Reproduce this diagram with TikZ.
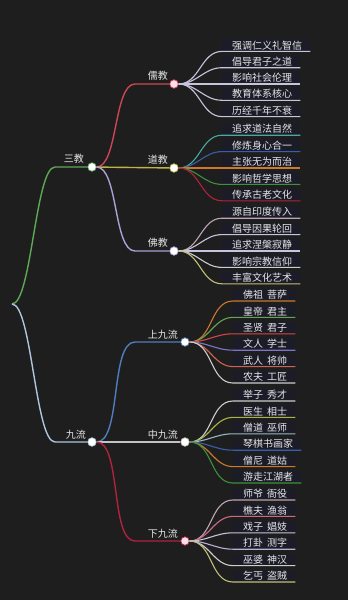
\documentclass[tikz,border=0pt]{standalone}
\usepackage{fontspec}
\newfontfamily\cjk{Noto Sans CJK SC}
\usepackage{tikz}
\usetikzlibrary{positioning,calc}
% --- palette ---------------------------------------------------------
\definecolor{bgc}{RGB}{30,30,30}
\definecolor{leafbg}{RGB}{27,28,40}
\definecolor{txt}{RGB}{230,230,230}
\definecolor{cGreen}{RGB}{96,168,88}
\definecolor{cSky}{RGB}{175,198,222}
\definecolor{cRed}{RGB}{205,70,85}
\definecolor{cOlive}{RGB}{190,180,70}
\definecolor{cLav}{RGB}{170,160,215}
\definecolor{cBlue}{RGB}{80,125,190}
\definecolor{cGrey}{RGB}{195,195,195}
\definecolor{cCrim}{RGB}{175,35,60}
\definecolor{cTeal}{RGB}{70,170,160}
\definecolor{cNavy}{RGB}{55,95,175}
\definecolor{cOrange}{RGB}{205,120,45}
\definecolor{cLeaf}{RGB}{60,145,60}
\definecolor{cLeafB}{RGB}{100,165,80}
\definecolor{cRedB}{RGB}{215,70,70}
\definecolor{cPurp}{RGB}{125,115,205}
\definecolor{cSalmon}{RGB}{205,100,80}
\definecolor{cOliveB}{RGB}{170,180,70}
\definecolor{cPink}{RGB}{205,105,130}
\definecolor{lPale}{RGB}{200,195,222}
\definecolor{lRose}{RGB}{190,165,178}
\definecolor{lGrey}{RGB}{205,205,205}
\definecolor{lStraw}{RGB}{195,190,120}
\definecolor{lTeal}{RGB}{150,185,195}
\definecolor{lLav}{RGB}{185,175,215}
\definecolor{dotpink}{RGB}{255,222,235}
\tikzset{
  % --- nodes -----------------------------------------------------------
  dot/.style  ={circle, draw=#1, fill=white, line width=0.7pt,
                minimum size=8.5pt, inner sep=0},
  hub/.style  ={font=\cjk\fontsize{10}{12}\selectfont, text=txt,
                inner sep=1pt, anchor=south east},
  leaf/.style ={font=\cjk\fontsize{10}{12}\selectfont, text=txt, fill=leafbg,
                inner xsep=0pt, inner ysep=1.3pt, anchor=south west},
  % --- connectors ------------------------------------------------------
  edge/.style ={line width=1.4pt, draw=#1},
  twig/.style ={line width=1.1pt, draw=#1},
}
\newcommand{\leaftxt}[1]{\hspace*{10pt}#1\hspace*{8pt}}

\begin{document}
\begin{tikzpicture}[x=1pt, y=-1pt]

  % ============================= canvas =============================
  \fill[bgc] (0,0) rectangle (348,600);
  \useasboundingbox (0,0) rectangle (348,600);

  % ============================= root + level 1 =============================
  \coordinate (root) at (12,304);
  \node[dot=cGreen] (sanjiao) at (92,167) {};
  \node[hub] (sanjiao-t) at ($(sanjiao)+(-7,-2)$) {三教};
  \node[dot=cSky] (jiuliu) at (92,442) {};
  \node[hub] (jiuliu-t) at ($(jiuliu)+(-5,-2)$) {九流};

  % ============================= level 2 =============================
  \node[dot=cRed, fill=dotpink] (rujiao) at (174,84) {};
  \node[hub] (rujiao-t) at ($(rujiao)+(-5,-2)$) {儒教};
  \node[dot=cOlive] (daojiao) at (174,168) {};
  \node[hub] (daojiao-t) at ($(daojiao)+(-5,-2)$) {道教};
  \node[dot=cLav] (fojiao) at (174,251) {};
  \node[hub] (fojiao-t) at ($(fojiao)+(-5,-2)$) {佛教};

  \node[dot=cBlue] (shang) at (185,342) {};
  \node[hub] (shang-t) at ($(shang)+(-6,-2)$) {上九流};
  \node[dot=cGrey] (zhong) at (185,442) {};
  \node[hub] (zhong-t) at ($(zhong)+(-6,-2)$) {中九流};
  \node[dot=cCrim, fill=dotpink] (xia) at (185,541) {};
  \node[hub] (xia-t) at ($(xia)+(-6,-2)$) {下九流};

  % ============================= leaves: 儒教 =============================
  \node[leaf] (ru1) at (222,51.4)  {\leaftxt{强调仁义礼智信}};
  \node[leaf] (ru2) at (222,67.7)  {\leaftxt{倡导君子之道}};
  \node[leaf] (ru3) at (222,84)    {\leaftxt{影响社会伦理}};
  \node[leaf] (ru4) at (222,100.3) {\leaftxt{教育体系核心}};
  \node[leaf] (ru5) at (222,116.6) {\leaftxt{历经千年不衰}};

  % ============================= leaves: 道教 =============================
  \node[leaf] (dao1) at (222,135.2) {\leaftxt{追求道法自然}};
  \node[leaf] (dao2) at (222,151.6) {\leaftxt{修炼身心合一}};
  \node[leaf] (dao3) at (222,168)   {\leaftxt{主张无为而治}};
  \node[leaf] (dao4) at (222,184.4) {\leaftxt{影响哲学思想}};
  \node[leaf] (dao5) at (222,200.8) {\leaftxt{传承古老文化}};

  % ============================= leaves: 佛教 =============================
  \node[leaf] (fo1) at (222,218.2) {\leaftxt{源自印度传入}};
  \node[leaf] (fo2) at (222,234.6) {\leaftxt{倡导因果轮回}};
  \node[leaf] (fo3) at (222,251)   {\leaftxt{追求涅槃寂静}};
  \node[leaf] (fo4) at (222,267.4) {\leaftxt{影响宗教信仰}};
  \node[leaf] (fo5) at (222,283.8) {\leaftxt{丰富文化艺术}};

  % ============================= leaves: 上九流 =============================
  \node[leaf] (sh1) at (233,301)   {\leaftxt{佛祖\hspace{4pt}菩萨}};
  \node[leaf] (sh2) at (233,317.4) {\leaftxt{皇帝\hspace{4pt}君主}};
  \node[leaf] (sh3) at (233,333.8) {\leaftxt{圣贤\hspace{4pt}君子}};
  \node[leaf] (sh4) at (233,350.2) {\leaftxt{文人\hspace{4pt}学士}};
  \node[leaf] (sh5) at (233,366.6) {\leaftxt{武人\hspace{4pt}将帅}};
  \node[leaf] (sh6) at (233,383)   {\leaftxt{农夫\hspace{4pt}工匠}};

  % ============================= leaves: 中九流 =============================
  \node[leaf] (zh1) at (233,401)   {\leaftxt{举子\hspace{4pt}秀才}};
  \node[leaf] (zh2) at (233,417.4) {\leaftxt{医生\hspace{4pt}相士}};
  \node[leaf] (zh3) at (233,433.8) {\leaftxt{僧道\hspace{4pt}巫师}};
  \node[leaf] (zh4) at (233,450.2) {\leaftxt{琴棋书画家}};
  \node[leaf] (zh5) at (233,466.6) {\leaftxt{僧尼\hspace{4pt}道姑}};
  \node[leaf] (zh6) at (233,483)   {\leaftxt{游走江湖者}};

  % ============================= leaves: 下九流 =============================
  \node[leaf] (xi1) at (233,500)   {\leaftxt{师爷\hspace{4pt}衙役}};
  \node[leaf] (xi2) at (233,516.4) {\leaftxt{樵夫\hspace{4pt}渔翁}};
  \node[leaf] (xi3) at (233,532.8) {\leaftxt{戏子\hspace{4pt}娼妓}};
  \node[leaf] (xi4) at (233,549.2) {\leaftxt{打卦\hspace{4pt}测字}};
  \node[leaf] (xi5) at (233,565.6) {\leaftxt{巫婆\hspace{4pt}神汉}};
  \node[leaf] (xi6) at (233,582)   {\leaftxt{乞丐\hspace{4pt}盗贼}};

  % ============================= edges: root -> level 1 =============================
  \draw[edge=cGreen] (root) to[out=0,in=180,looseness=.35] ($(sanjiao)+(-37,0)$) -- (sanjiao);
  \draw[edge=cSky]   (root) to[out=0,in=180,looseness=.35] ($(jiuliu)+(-37,0)$) -- (jiuliu);

  % ============================= edges: level 1 -> level 2 =============================
  \draw[edge=cRed]   (sanjiao) to[out=0,in=180,looseness=.6] ($(rujiao)+(-39,0)$) -- (rujiao);
  \draw[edge=cOlive] (sanjiao) -- (daojiao);
  \draw[edge=cLav]   (sanjiao) to[out=0,in=180,looseness=.6] ($(fojiao)+(-39,0)$) -- (fojiao);
  \draw[edge=cBlue]  (jiuliu) to[out=0,in=180,looseness=.6] ($(shang)+(-50,0)$) -- (shang);
  \draw[edge=cGrey]  (jiuliu) -- (zhong);
  \draw[edge=cCrim]  (jiuliu) to[out=0,in=180,looseness=.6] ($(xia)+(-50,0)$) -- (xia);

  % ============================= edges: 儒教 leaves =============================
  \draw[twig=lPale] (rujiao) to[out=0,in=180] (ru1.south west) -- (ru1.south east);
  \draw[twig=lPale] (rujiao) to[out=0,in=180] (ru2.south west) -- (ru2.south east);
  \draw[twig=lPale] (rujiao) to[out=0,in=180] (ru3.south west) -- (ru3.south east);
  \draw[twig=lPale] (rujiao) to[out=0,in=180] (ru4.south west) -- (ru4.south east);
  \draw[twig=lPale] (rujiao) to[out=0,in=180] (ru5.south west) -- (ru5.south east);

  % ============================= edges: 道教 leaves =============================
  \draw[twig=cTeal]   (daojiao) to[out=0,in=180] (dao1.south west) -- (dao1.south east);
  \draw[twig=cNavy]   (daojiao) to[out=0,in=180] (dao2.south west) -- (dao2.south east);
  \draw[twig=cOrange] (daojiao) to[out=0,in=180] (dao3.south west) -- (dao3.south east);
  \draw[twig=cLeaf]   (daojiao) to[out=0,in=180] (dao4.south west) -- (dao4.south east);
  \draw[twig=cCrim]   (daojiao) to[out=0,in=180] (dao5.south west) -- (dao5.south east);

  % ============================= edges: 佛教 leaves =============================
  \draw[twig=lRose]  (fojiao) to[out=0,in=180] (fo1.south west) -- (fo1.south east);
  \draw[twig=lPale]  (fojiao) to[out=0,in=180] (fo2.south west) -- (fo2.south east);
  \draw[twig=lPale]  (fojiao) to[out=0,in=180] (fo3.south west) -- (fo3.south east);
  \draw[twig=lGrey]  (fojiao) to[out=0,in=180] (fo4.south west) -- (fo4.south east);
  \draw[twig=lStraw] (fojiao) to[out=0,in=180] (fo5.south west) -- (fo5.south east);

  % ============================= edges: 上九流 leaves =============================
  \draw[twig=cOrange] (shang) to[out=0,in=180] (sh1.south west) -- (sh1.south east);
  \draw[twig=cLeafB]  (shang) to[out=0,in=180] (sh2.south west) -- (sh2.south east);
  \draw[twig=cRedB]   (shang) to[out=0,in=180] (sh3.south west) -- (sh3.south east);
  \draw[twig=cPurp]   (shang) to[out=0,in=180] (sh4.south west) -- (sh4.south east);
  \draw[twig=cSalmon] (shang) to[out=0,in=180] (sh5.south west) -- (sh5.south east);
  \draw[twig=lGrey]   (shang) to[out=0,in=180] (sh6.south west) -- (sh6.south east);

  % ============================= edges: 中九流 leaves =============================
  \draw[twig=lGrey]   (zhong) to[out=0,in=180] (zh1.south west) -- (zh1.south east);
  \draw[twig=cOliveB] (zhong) to[out=0,in=180] (zh2.south west) -- (zh2.south east);
  \draw[twig=lTeal]   (zhong) to[out=0,in=180] (zh3.south west) -- (zh3.south east);
  \draw[twig=cNavy]   (zhong) to[out=0,in=180] (zh4.south west) -- (zh4.south east);
  \draw[twig=cOrange] (zhong) to[out=0,in=180] (zh5.south west) -- (zh5.south east);
  \draw[twig=cLeaf]   (zhong) to[out=0,in=180] (zh6.south west) -- (zh6.south east);

  % ============================= edges: 下九流 leaves =============================
  \draw[twig=lRose]  (xia) to[out=0,in=180] (xi1.south west) -- (xi1.south east);
  \draw[twig=cPink]  (xia) to[out=0,in=180] (xi2.south west) -- (xi2.south east);
  \draw[twig=lPale]  (xia) to[out=0,in=180] (xi3.south west) -- (xi3.south east);
  \draw[twig=lLav]   (xia) to[out=0,in=180] (xi4.south west) -- (xi4.south east);
  \draw[twig=lGrey]  (xia) to[out=0,in=180] (xi5.south west) -- (xi5.south east);
  \draw[twig=lStraw] (xia) to[out=0,in=180] (xi6.south west) -- (xi6.south east);

\end{tikzpicture}
\end{document}
